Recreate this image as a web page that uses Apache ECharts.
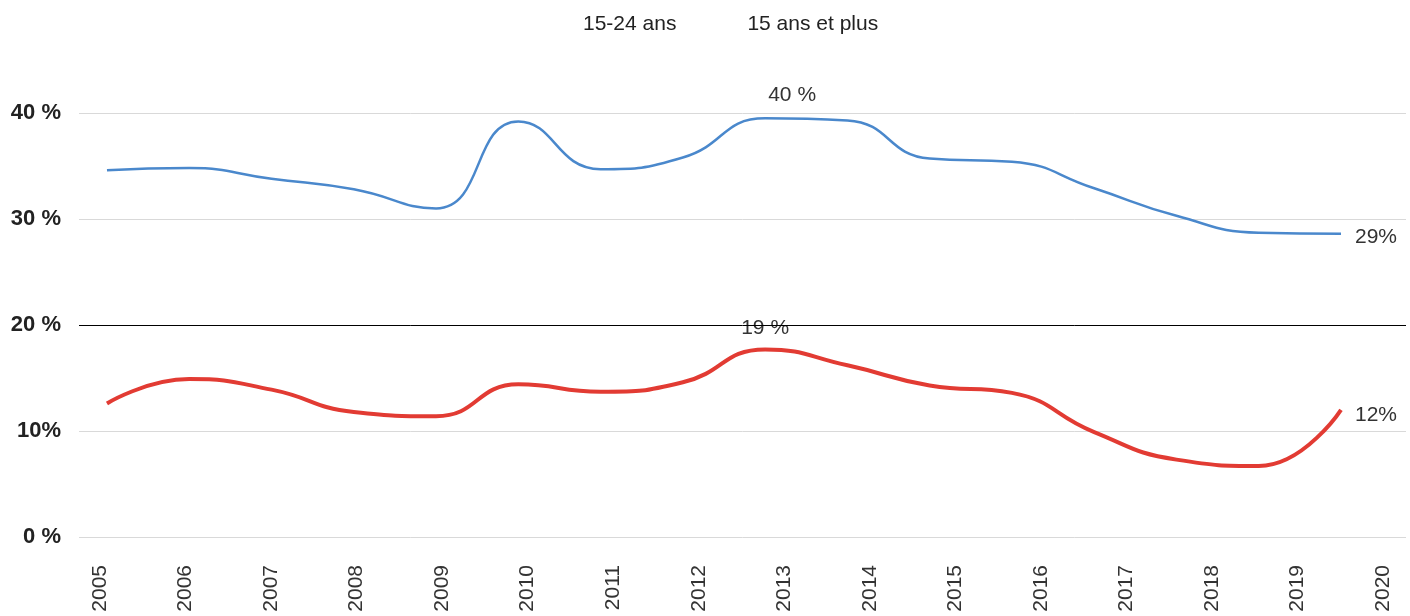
<!DOCTYPE html>
<html><head><meta charset="utf-8">
<script src="https://cdn.jsdelivr.net/npm/echarts@6/dist/echarts.min.js"></script>
<style>html,body{margin:0;padding:0;background:#fff}#c{width:1410px;height:616px}</style>
</head><body><div id="c"></div>
<script>
const years = ['2005','2006','2007','2008','2009','2010','2011','2012','2013','2014','2015','2016','2017','2018','2019','2020'];
const seriesNames = ['15-24 ans', '15 ans et plus'];
const youth = [34.6, 34.8, 33.8, 32.8, 31.0, 39.2, 34.7, 35.8, 39.5, 39.3, 35.7, 35.4, 32.9, 30.3, 28.7, 28.6];
const allAges = [12.6, 14.9, 13.9, 11.8, 11.4, 14.4, 13.7, 14.6, 17.7, 16.2, 14.3, 13.6, 9.9, 7.3, 6.7, 12.0];
const yTicks = [0, 10, 20, 30, 40];
const yTickLabels = ['0 %', '10%', '20 %', '30 %', '40 %'];
const youthLabelText = {8: '40 %', 15: '29%'};
const allLabelText = {8: '19 %', 15: '12%'};
const refLine = 20;

const FONT = '"Liberation Sans", Arial, sans-serif';
const labelPos = {
  '40 %': {position: 'top', offset: [27, -8]},
  '29%': {position: 'right', distance: 14, offset: [0, 3]},
  '19 %': {position: 'top', offset: [0, -6]},
  '12%': {position: 'right', distance: 14, offset: [0, 5]}
};
function build(vals, texts) {
  return vals.map((v, i) => {
    const pt = [Number(years[i]), v];
    if (texts[i] === undefined) return pt;
    return {value: pt, label: Object.assign({show: true, formatter: texts[i], color: '#333', fontSize: 21, fontFamily: FONT}, labelPos[texts[i]])};
  });
}

const chart = echarts.init(document.getElementById('c'));
chart.setOption({
  animation: false,
  backgroundColor: '#fff',
  textStyle: {fontFamily: FONT},
  legend: {
    data: seriesNames,
    top: 9, left: 572,
    itemWidth: 0, itemHeight: 0, itemGap: 65,
    itemStyle: {opacity: 0}, lineStyle: {opacity: 0},
    textStyle: {fontSize: 21, color: '#222', fontFamily: FONT}
  },
  grid: [
    {left: 79, right: 4, top: 113, height: 424},
    {left: 100, right: 27, top: 113, height: 424}
  ],
  xAxis: [
    {type: 'value', gridIndex: 0, min: 2004.66, max: 2020.79, show: false},
    {type: 'category', gridIndex: 1, data: years, boundaryGap: false,
     axisLine: {show: false}, axisTick: {show: false}, splitLine: {show: false},
     axisLabel: {rotate: 90, margin: 28, fontSize: 21, color: '#333', fontFamily: FONT}}
  ],
  yAxis: [
    {type: 'value', gridIndex: 0, min: 0, max: 40, interval: 10,
     axisLine: {show: false}, axisTick: {show: false},
     splitLine: {show: true, lineStyle: {color: '#d9d9d9', width: 1}},
     axisLabel: {margin: 18, fontSize: 22, fontWeight: 'bold', color: '#222', fontFamily: FONT,
       formatter: v => yTickLabels[yTicks.indexOf(v)]}},
    {type: 'value', gridIndex: 1, min: 0, max: 40, show: false}
  ],
  series: [
    {name: seriesNames[0], type: 'line', xAxisIndex: 0, yAxisIndex: 0, smooth: 0.5,
     showSymbol: true, symbol: 'circle', symbolSize: 0, color: '#4a88cc',
     lineStyle: {width: 2.5, color: '#4a88cc'},
     data: build(youth, youthLabelText),
     markLine: {silent: true, symbol: 'none', label: {show: false},
       lineStyle: {color: '#000', width: 1, type: 'solid'}, data: [{yAxis: refLine}]}},
    {name: seriesNames[1], type: 'line', xAxisIndex: 0, yAxisIndex: 0, smooth: 0.5,
     showSymbol: true, symbol: 'circle', symbolSize: 0, color: '#e23b33',
     lineStyle: {width: 4, color: '#e23b33'},
     data: build(allAges, allLabelText)}
  ]
});
</script></body></html>
